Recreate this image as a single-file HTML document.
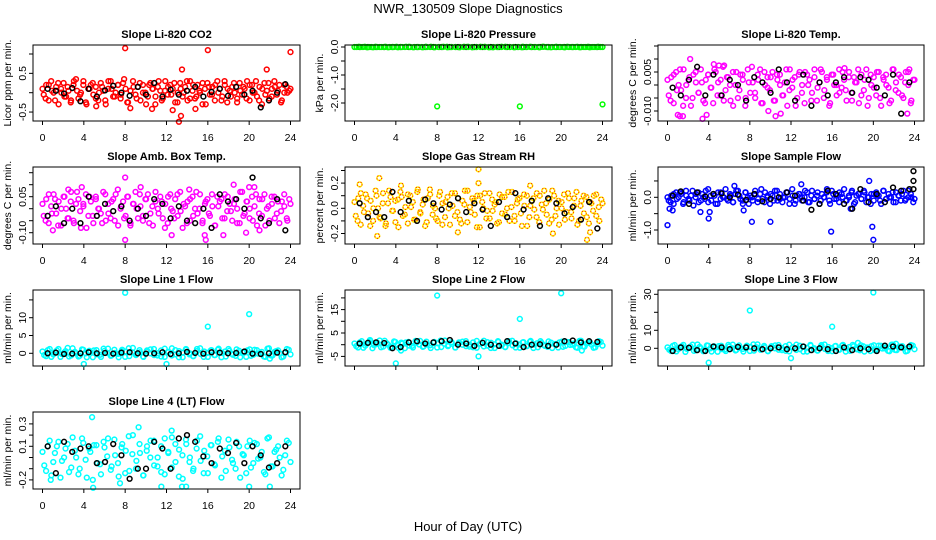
<!DOCTYPE html>
<html><head><meta charset="utf-8"><style>
html,body{margin:0;padding:0;background:#fff;}
svg{display:block;font-family:"Liberation Sans",Arial,sans-serif;}
</style></head><body>
<svg id="chart" width="936" height="540" viewBox="0 0 936 540" xmlns="http://www.w3.org/2000/svg">
<rect width="936" height="540" fill="#fff"/>
<text x="468" y="13" text-anchor="middle" font-size="13">NWR_130509  Slope Diagnostics</text>
<text x="468" y="531" text-anchor="middle" font-size="13">Hour of Day (UTC)</text>
</svg>
<script>
const hourTicks=[0,4,8,12,16,20,24];
const titles=["Slope Li-820 CO2","Slope Li-820 Pressure","Slope Li-820 Temp.","Slope Amb. Box Temp.","Slope Gas Stream RH","Slope Sample Flow","Slope Line 1 Flow","Slope Line 2 Flow","Slope Line 3 Flow","Slope Line 4 (LT) Flow"];
const yTitles=["Licor ppm per min.","kPa per min.","degrees C per min.","degrees C per min.","percent per min.","ml/min per min.","ml/min per min.","ml/min per min.","ml/min per min.","ml/min per min."];

const co2Vals=[0.1,-0.15,0.2,0.05,-0.2,0.25,0,-0.1,0.15,-0.25,0.3,0.05,-0.05,0.2,-0.3,0.1,0.25,-0.15,0,0.15,-0.2,0.3,0.1,-0.1,0.2,-0.05,0.35,-0.25,0.05,0.15,-0.15,0.25,0,-0.3,0.2,0.1,-0.1,0.3,-0.2,0.05,0.15,-0.05,0.25,-0.25,0.1,0,0.3,-0.15,0.2,-0.1,0.05,0.25,-0.3,0.15,-0.05,0.2,0,-0.2,0.3,0.1,-0.1,0.25,-0.25,0.05,0.15,-0.15,0.2,0,0.3,-0.2,0.1,-0.05,0.25,-0.1,0.15,0.05,-0.25,0.2,0,0.1];
const co2ValsB=[-0.05,0.2,-0.2,0.3,0,0.15,-0.3,0.1,0.25,-0.1,0.05,-0.2,0.2,0.35,-0.15,0,0.3,-0.25,0.1,0.2,-0.05,0.15,-0.2,0.25,0.05,-0.3,0.1,0.3,-0.1,0,0.2,-0.15,0.25,0.1,-0.25,0.05,0.3,-0.05,0.15,-0.2,0.2,0,-0.1,0.25,0.1,-0.3,0.15,0.05,-0.15,0.3,-0.05,0.2,0.1,-0.25,0,0.25,-0.1,0.15,-0.2,0.3,0.05,-0.15,0.2,0,-0.3,0.1,0.25,-0.05,0.15,-0.2,0.3,0.1,-0.1,0.2,-0.25,0.05,0.15,0,-0.15,0.25,-0.05,0.1,0.3,-0.2,0.2,0,-0.1,0.15,-0.3,0.25,0.05,-0.15,0.1,0.3,-0.05,0.2,-0.2,0,0.15,0.05];
const co2OutHours=[8,16,24,13.5,21.7,13.2,13.4,10.6,12.6,8.5,5.2,14.8];
const co2OutVals=[1.15,1.1,1.05,0.6,0.6,-0.75,-0.6,-0.42,-0.45,-0.4,-0.35,-0.42];
const co2Ref=[0.1,0.05,-0.02,0.12,-0.22,0.1,-0.1,0.06,0.18,0,-0.08,0.15,-0.05,0.25,-0.1,0.08,-0.05,0.05,0.15,-0.1,0.02,0.1,-0.08,0.15,-0.05,0.05,-0.38,-0.2,0,0.22];

const presVals=[0,0.01,0,-0.01,0,0.01,0,0,-0.01,0,0.01,0,0,0.01,-0.01,0,0,0.01,0,-0.01,0,0,0.01,0,0,-0.01,0,0.01,0,0,0,0.01,-0.01,0,0,0.01,0,0,-0.01,0,0.01,0,0,0,-0.01,0.01,0,0,0.01,0,-0.01,0,0,0.01,0,0,-0.01,0,0.01,0];
const presValsB=[0,0,0.01,0,-0.01,0,0,0.01,0,0,-0.01,0,0.01,0,0,0,-0.01,0,0.01,0,0,0.01,-0.01,0,0,0,0.01,0,-0.01,0,0.01,0,0,-0.01,0,0,0.01,0,0,0,-0.01,0,0.01,0,0,0.01,0,-0.01,0,0,0,0.01,0,0,-0.01,0,0.01,0,0,0];
const presOutHours=[8,16,24];
const presOutVals=[-2.12,-2.12,-2.05];
const presRef=[0,0,0,0,0,0,0,0,0,0,0,0,0,0,0,0,0,0,0,0,0,0,0,0,0,0,0,0,0,0];

const tempVals=[0.002,-0.006,0.004,-0.002,0.006,-0.008,0,0.003,-0.005,0.005,-0.003,0.001,-0.007,0.004,-0.001,0.006,-0.004,0.002,-0.006,0.003,0,-0.008,0.005,-0.002,0.004,-0.005,0.001,0.007,-0.003,0.002,-0.007,0.005,-0.001,0.003,-0.006,0.004,0,-0.004,0.006,-0.002,0.002,-0.008,0.004,-0.003,0.005,0,-0.006,0.003,-0.001,0.006,-0.005,0.002,-0.007,0.004,0,-0.003,0.005,-0.002,0.003,-0.006,0.001,0.006,-0.004,0.002,-0.008,0.004,-0.001,0.005,-0.005,0.003,0,-0.007,0.006,-0.002,0.004,-0.004,0.001,0.005,-0.006,0.002];
const tempValsB=[-0.004,0.003,-0.007,0.005,0,-0.002,0.006,-0.005,0.002,-0.008,0.004,0.001,-0.003,0.006,-0.006,0.002,0.004,-0.001,-0.007,0.005,0.001,-0.004,0.007,-0.002,0.003,-0.006,0.005,0,-0.005,0.004,0.002,-0.008,0.006,-0.003,0.001,-0.005,0.004,0.006,-0.007,0,0.003,-0.002,0.005,-0.006,0.002,0.004,-0.004,0.001,-0.008,0.006,-0.001,0.003,-0.005,0.005,0,-0.007,0.004,0.002,-0.003,0.006,-0.006,0.001,0.005,-0.002,0.003,-0.008,0.004,0,-0.004,0.006,-0.001,0.002,-0.006,0.005,-0.003,0.003,0.001,-0.007,0.004,-0.002,0.006,-0.005,0,0.003,-0.004,0.005,-0.008,0.002,0.004,-0.001,-0.006,0.006,0.001,-0.003,0.003,-0.005,0.005,0,-0.007,0.002];
const tempOutHours=[1.2,1.5,3.4,4.5,5,5.5,2.2,9.8,10.5,11,17.2,23.5,23.3,3.8,1.0];
const tempOutVals=[-0.012,-0.012,-0.013,0.008,0.0075,0.0075,0.01,-0.01,-0.012,-0.011,0.0065,0.006,-0.011,-0.0115,-0.0115];
const tempRef=[-0.001,-0.004,0.002,0.007,-0.004,0.004,-0.004,0.002,0,-0.006,0.003,0.001,-0.003,0.006,0.001,-0.006,0.004,-0.008,0.001,-0.004,0.001,0.003,-0.003,0.003,0.002,-0.001,-0.004,0.004,-0.011,0.001];

const ambVals=[0.02,-0.05,0.06,-0.02,0.04,-0.07,0,0.05,-0.04,0.03,-0.06,0.07,-0.01,0.02,-0.08,0.05,-0.03,0.04,0,-0.06,0.06,-0.02,0.03,-0.05,0.08,0.01,-0.04,0.05,-0.07,0.02,0,0.06,-0.03,0.04,-0.06,0.01,0.07,-0.02,0.03,-0.08,0.05,0,-0.04,0.06,-0.01,0.02,-0.06,0.04,-0.03,0.07,0,-0.05,0.03,-0.02,0.06,-0.07,0.01,0.04,-0.04,0.05,-0.01,0.02,-0.06,0.07,-0.03,0.03,0,-0.05,0.06,-0.02,0.04,-0.07,0.01,0.05,-0.04,0.03,-0.01,0.06,-0.05,0.02];
const ambValsB=[-0.03,0.04,-0.06,0.01,0.06,-0.02,0.03,-0.07,0.05,0,-0.04,0.07,-0.05,0.02,0.04,-0.08,0.01,0.06,-0.03,0.03,-0.06,0.05,0,-0.02,0.07,-0.05,0.02,-0.04,0.04,0.06,-0.07,0,0.03,-0.03,0.05,-0.06,0.02,0.07,-0.04,0.01,-0.05,0.04,0.06,-0.02,-0.07,0.03,0,0.05,-0.04,0.02,-0.06,0.06,-0.01,0.04,-0.03,0.07,-0.08,0.01,0.03,-0.05,0.05,0,-0.02,0.06,-0.06,0.02,0.04,-0.03,0.01,-0.07,0.05,0.03,-0.04,0.06,-0.01,0.02,-0.05,0.04,0,-0.06,0.07,-0.02,0.03,-0.04,0.05,0.01,-0.07,0.04,-0.03,0.06,0,-0.05,0.02,0.05,-0.02,-0.06,0.03,0.01,-0.04,0.04];
const ambOutHours=[8,12.5,15.8,15.7,18.5,20,17.5,3.8,2.5,9.5,19.7,21,8,14.2,20.5,1];
const ambOutVals=[0.13,-0.11,-0.13,-0.11,0.10,0.09,-0.11,0.09,0.08,0.09,-0.1,-0.09,-0.13,0.08,0.09,-0.09];
const ambRef=[-0.03,0.01,-0.06,0,-0.06,0.05,-0.03,0.02,-0.01,0.01,-0.05,0,-0.03,0.04,0.02,-0.04,0.01,-0.05,-0.06,0,-0.08,0.06,0.03,0.04,0,0.13,-0.04,-0.06,0.04,-0.09];

const rhVals=[0.05,-0.1,0.12,-0.03,0.08,-0.14,0,0.1,-0.07,0.04,-0.12,0.14,-0.02,0.06,-0.15,0.09,-0.05,0.11,0.01,-0.09,0.13,-0.04,0.07,-0.11,0.15,0.02,-0.08,0.1,-0.13,0.05,0,0.12,-0.06,0.08,-0.12,0.03,0.14,-0.03,0.06,-0.15,0.1,0,-0.08,0.12,-0.02,0.05,-0.11,0.09,-0.05,0.13,0.01,-0.1,0.07,-0.04,0.11,-0.14,0.02,0.08,-0.07,0.1,-0.01,0.04,-0.12,0.14,-0.06,0.06,0,-0.09,0.12,-0.03,0.08,-0.13,0.02,0.1,-0.07,0.05,-0.02,0.11,-0.1,0.04];
const rhValsB=[-0.06,0.08,-0.13,0.02,0.11,-0.04,0.06,-0.1,0.14,0,-0.08,0.12,-0.14,0.04,0.09,-0.02,-0.11,0.07,0.13,-0.06,0.01,-0.12,0.1,0.05,-0.09,0.15,-0.03,0.03,-0.14,0.08,0.11,-0.05,0,-0.1,0.13,0.04,-0.07,0.09,-0.13,0.02,0.12,-0.03,-0.09,0.06,0.14,-0.11,0.01,0.08,-0.05,0.1,-0.15,0.05,0.12,-0.02,-0.08,0.07,0.03,-0.12,0.11,-0.04,0.09,0,-0.1,0.13,-0.06,0.04,0.08,-0.14,0.02,0.1,-0.07,0.06,-0.01,0.12,-0.11,0.03,0.14,-0.05,0.07,-0.09,0.1,0,-0.13,0.05,0.11,-0.03,0.08,-0.08,0.02,0.13,-0.1,0.06,-0.04,0.09,-0.12,0.04,0.1,-0.06,0.01,0.07];
const rhOutHours=[12,2.2,2.4,0.5,22.5,22.8,12,10,19.2,17,4.5];
const rhOutVals=[0.31,-0.22,0.24,0.19,-0.25,-0.19,0.2,-0.19,-0.2,0.18,0.18];
const rhRef=[0.04,-0.07,-0.03,-0.07,0.13,-0.03,0.06,-0.1,0.07,0.04,-0.01,0.03,0.08,-0.03,0.04,-0.01,-0.14,0.05,-0.07,0.12,-0.01,0.06,-0.14,0.08,0.04,-0.04,0.01,-0.09,0.05,-0.16];

const flowVals=[0,-0.15,0.1,-0.05,0.15,-0.2,0.05,-0.1,0.2,0,-0.15,0.1,-0.05,0.25,-0.1,0.05,-0.2,0.15,0,-0.05,0.1,-0.15,0.2,0.05,-0.1,0.15,-0.2,0,0.1,-0.05,0.25,-0.15,0.05,0.1,-0.1,0.2,-0.05,0,0.15,-0.2,0.05,-0.1,0.1,0,0.2,-0.15,0.05,-0.05,0.15,-0.1,0,0.25,-0.2,0.1,-0.05,0.15,0,-0.1,0.05,0.2,-0.15,0.1,-0.05,0.15,0,-0.2,0.1,0.05,-0.1,0.2,-0.05,0,0.15,-0.15,0.05,0.1,-0.1,0.2,0,-0.05];
const flowValsB=[-0.1,0.05,-0.2,0.15,0,0.1,-0.15,0.2,-0.05,0.05,-0.25,0.1,0.15,-0.1,0,0.2,-0.15,0.05,0.1,-0.2,0.15,-0.05,0,0.25,-0.1,0.05,-0.15,0.1,0.2,-0.05,-0.2,0.15,0,0.05,-0.1,0.2,-0.15,0.1,-0.05,0.15,0,-0.2,0.05,0.2,-0.1,0.1,-0.15,0,0.15,-0.05,0.25,-0.2,0.05,0.1,-0.1,0,0.15,-0.15,0.2,-0.05,0.05,-0.2,0.1,0,0.15,-0.1,0.2,-0.05,0.05,-0.15,0.1,0.25,-0.1,0,0.15,-0.2,0.05,0.1,-0.05,0.2,-0.15,0,0.1,-0.1,0.15,0.05,-0.2,0.2,-0.05,0.1,0,-0.15,0.15,0.05,-0.1,0.2,-0.05,0,0.1,-0.15];
const flowOutHours=[0,0.2,0.5,4,4.1,8.2,10,15.9,20,19.9,19.6,3.2,7.4,6.5,13,17.8];
const flowOutVals=[-0.85,-0.35,-0.4,-0.65,-0.45,-0.75,-0.75,-1.05,-1.3,-0.9,0.5,-0.45,-0.4,0.35,0.4,-0.35];
const flowRef=[0.05,0.18,-0.2,0.15,0.02,0.1,0.12,0,0.08,-0.08,0.1,-0.12,-0.05,0,0.15,0.05,-0.1,-0.38,-0.2,0.2,0.1,-0.2,-0.35,0.25,-0.15,0.1,-0.15,0.3,0.2,0.25];
const flowRefOutHours=[23.9,23.9,23.9];
const flowRefOutVals=[0.8,0.5,0.25];

const l1Vals=[0.5,-0.8,1.2,-0.3,0.8,-1,0.2,1.5,-0.6,0.4,-0.9,1.1,0,0.7,-1.1,0.9,-0.4,1.3,0.1,-0.7,1,-0.2,0.6,-1,1.4,0.3,-0.5,0.9,-0.9,0.5,0,1.2,-0.6,0.8,-1,0.3,1.4,-0.3,0.6,-1.1,1,0,-0.8,1.2,-0.2,0.5,-1,0.9,-0.5,1.3,0.1,-0.9,0.7,-0.4,1.1,-1.1,0.2,0.8,-0.7,1,-0.1,0.4,-1,1.4,-0.6,0.6,0,-0.9,1.2,-0.3];
const l1ValsB=[-0.5,0.9,-1,0.3,1.2,-0.2,0.6,-0.9,1.4,0,-0.7,1,-1.1,0.4,0.8,-0.3,-1,0.7,1.3,-0.6,0.1,-1.1,1,0.5,-0.8,1.5,-0.2,0.3,-1,0.8,1.1,-0.5,0,-0.9,1.3,0.4,-0.6,0.9,-1.1,0.2,1.2,-0.3,-0.8,0.6,1.4,-1,0.1,0.8,-0.5,1,-1.1,0.5,1.2,-0.2,-0.7,0.7,0.3,-1,1.1,-0.4,0.9,0,-0.9,1.3,-0.6,0.4,0.8,-1.1,0.2,1];
const l1OutHours=[8,16,20,4,12,22];
const l1OutVals=[17,7.5,11,-3,-3,-1.5];
const l1Ref=[0,0.2,-0.2,-0.1,0,0.3,0,0.1,-0.1,0.2,0.3,0,-0.1,0,0.3,-0.2,0,0.4,0.1,-0.1,0.3,0.2,0,0.1,0.5,-0.1,-0.2,0,0.2,0.3];

const l2Vals=[0.5,-1.2,1.5,-0.4,1,-1.5,0.2,1.8,-0.8,0.6,-1.3,1.4,0,0.9,-1.5,1.2,-0.5,1.6,0.1,-0.9,1.3,-0.3,0.8,-1.2,1.8,0.4,-0.6,1.1,-1.2,0.6,0,1.5,-0.8,1,-1.3,0.4,1.7,-0.4,0.8,-1.4,1.2,0,-1,1.5,-0.3,0.6,-1.3,1.1,-0.6,1.6,0.1,-1.1,0.9,-0.5,1.4,-1.4,0.3,1,-0.9,1.2,-0.1,0.5,-1.3,1.7,-0.8,0.8,0,-1.1,1.5,-0.4];
const l2ValsB=[-0.6,1,-1.3,0.4,1.5,-0.2,0.8,-1.1,1.7,0,-0.9,1.2,-1.4,0.5,1,-0.4,-1.2,0.8,1.6,-0.7,0.1,-1.4,1.2,0.6,-1,1.8,-0.3,0.4,-1.2,1,1.3,-0.6,0,-1.1,1.6,0.5,-0.7,1.1,-1.4,0.2,1.5,-0.4,-1,0.7,1.7,-1.2,0.1,1,-0.6,1.2,-1.4,0.6,1.5,-0.2,-0.9,0.9,0.3,-1.2,1.3,-0.5,1.1,0,-1.1,1.6,-0.7,0.5,1,-1.3,0.2,1.2];
const l2OutHours=[8,20,16,4,12,4.5,22,1.5];
const l2OutVals=[21,22,11,-8,-5,-2.5,-2.5,2];
const l2Ref=[0.5,0.8,1,0.7,-1.5,-1,1,1.5,0.5,1,1.5,2,0,0.5,-0.5,0.8,0,-0.5,1.5,0.5,-1,0,0.2,-0.5,0,1.5,1.8,1,1.5,1.2];

const l3Vals=[0.5,-1.5,1.8,-0.5,1.2,-2,0.3,2,-1,0.8,-1.6,1.6,0,1.1,-1.9,1.4,-0.6,1.9,0.1,-1.2,1.6,-0.4,1,-1.5,2.2,0.5,-0.8,1.3,-1.5,0.7,0,1.8,-1,1.2,-1.7,0.5,2,-0.5,1,-1.8,1.4,0,-1.2,1.8,-0.4,0.7,-1.6,1.3,-0.8,1.9,0.1,-1.4,1.1,-0.6,1.7,-1.8,0.4,1.2,-1.1,1.5,-0.1,0.6,-1.6,2,-1,1,0,-1.4,1.8,-0.5];
const l3ValsB=[-0.8,1.3,-1.7,0.5,1.9,-0.3,1,-1.4,2.1,0,-1.1,1.5,-1.8,0.6,1.2,-0.5,-1.5,1,2,-0.9,0.2,-1.8,1.5,0.7,-1.3,2.2,-0.4,0.5,-1.6,1.2,1.6,-0.8,0,-1.4,2,0.6,-0.9,1.4,-1.8,0.3,1.9,-0.5,-1.3,0.9,2.1,-1.5,0.1,1.2,-0.7,1.5,-1.8,0.7,1.9,-0.3,-1.1,1.1,0.4,-1.5,1.7,-0.6,1.4,0,-1.4,2,-0.9,0.6,1.2,-1.7,0.3,1.5];
const l3OutHours=[8,20,16,4,12,18.5,22.2];
const l3OutVals=[21,31,12,-8,-5.5,3,2.5];
const l3Ref=[-1.5,0.5,0.3,-1,-1.5,1,0.5,-0.5,0.8,0.5,0,-0.5,0,0.5,-0.5,0,1,-1,0,-0.5,-1.5,0.5,-1,0,-0.5,-1.5,1.5,1,0.5,1];

const l4Vals=[0.05,-0.12,0.15,-0.04,0.1,-0.18,0,0.12,-0.09,0.06,-0.15,0.17,-0.02,0.08,-0.2,0.11,-0.06,0.14,0.01,-0.11,0.16,-0.05,0.09,-0.14,0.19,0.03,-0.1,0.12,-0.16,0.06,0,0.15,-0.08,0.1,-0.15,0.04,0.18,-0.04,0.07,-0.19,0.12,0,-0.1,0.15,-0.03,0.06,-0.14,0.11,-0.07,0.17,0.01,-0.12,0.09,-0.05,0.14,-0.18,0.02,0.1,-0.09,0.13,-0.01,0.05,-0.15,0.18,-0.08,0.07,0,-0.11,0.15,-0.04];
const l4ValsB=[-0.07,0.1,-0.16,0.04,0.14,-0.03,0.08,-0.13,0.18,0,-0.1,0.13,-0.18,0.05,0.11,-0.05,-0.15,0.09,0.17,-0.08,0.02,-0.17,0.12,0.06,-0.12,0.2,-0.03,0.04,-0.16,0.1,0.15,-0.07,0,-0.13,0.17,0.05,-0.09,0.12,-0.17,0.02,0.16,-0.04,-0.12,0.08,0.19,-0.14,0.01,0.11,-0.06,0.14,-0.18,0.06,0.16,-0.02,-0.1,0.1,0.03,-0.14,0.15,-0.05,0.12,0,-0.13,0.17,-0.08,0.05,0.1,-0.16,0.02,0.13];
const l4OutHours=[4.8,4.9,9.3,7.5,11.5,13.5,13.9,20,22,12.5,0.8];
const l4OutVals=[0.36,-0.27,0.27,-0.23,-0.26,-0.26,-0.26,-0.26,-0.26,0.24,-0.2];
const l4Ref=[0.1,-0.14,0.14,0.05,0.08,0.1,-0.05,-0.04,0.12,0.02,-0.19,-0.1,-0.1,0.14,0.08,-0.1,0.17,0.2,0.14,0.01,-0.05,0.08,0.04,0.13,-0.05,0.1,0.02,-0.09,-0.05,0.1];

const colL=[33,345,658], colR=[300,612,924];
const rowT=[45,167,290,412], rowB=[121,244,366,489];
const panels=[
 {c:0,r:0,name:"co2",zero:92.7,k:38.7,ticks:[-0.5,0,0.5,1],lab:["-0.5","","0.5",""],col:"#ff0000",vals:co2Vals,valsB:co2ValsB,oh:co2OutHours,ov:co2OutVals,ref:co2Ref},
 {c:1,r:0,name:"pressure",zero:47,k:28,ticks:[0,-0.5,-1,-1.5,-2],lab:["0.0","","-1.0","","-2.0"],col:"#00ff00",vals:presVals,valsB:presValsB,oh:presOutHours,ov:presOutVals,ref:presRef,refFirst:true},
 {c:2,r:0,name:"li820-temp",zero:85,k:2600,ticks:[-0.01,-0.005,0,0.005,0.01,0.015],lab:["-0.010","","","0.005","",""],col:"#ff00ff",vals:tempVals,valsB:tempValsB,oh:tempOutHours,ov:tempOutVals,ref:tempRef},
 {c:0,r:1,name:"amb-box-temp",zero:208.7,k:240,ticks:[-0.1,-0.05,0,0.05,0.1,0.15],lab:["-0.10","","","0.05","",""],col:"#ff00ff",vals:ambVals,valsB:ambValsB,oh:ambOutHours,ov:ambOutVals,ref:ambRef},
 {c:1,r:1,name:"gas-stream-rh",zero:208.3,k:126,ticks:[-0.2,-0.1,0,0.1,0.2,0.3],lab:["-0.2","","0.0","","0.2",""],col:"#ffee00",dash:"#ff2200",vals:rhVals,valsB:rhValsB,oh:rhOutHours,ov:rhOutVals,ref:rhRef},
 {c:2,r:1,name:"sample-flow",zero:197.3,k:32.7,ticks:[-1,-0.5,0,0.5],lab:["-1.0","","0.0",""],col:"#0000ff",vals:flowVals,valsB:flowValsB,oh:flowOutHours,ov:flowOutVals,ref:flowRef,roh:flowRefOutHours,rov:flowRefOutVals},
 {c:0,r:2,name:"line1-flow",zero:353.3,k:3.56,ticks:[0,5,10,15],lab:["0","5","10",""],col:"#00ffff",vals:l1Vals,valsB:l1ValsB,oh:l1OutHours,ov:l1OutVals,ref:l1Ref},
 {c:1,r:2,name:"line2-flow",zero:344.7,k:2.34,ticks:[-5,0,5,10,15,20],lab:["-5","","5","","15",""],col:"#00ffff",vals:l2Vals,valsB:l2ValsB,oh:l2OutHours,ov:l2OutVals,ref:l2Ref},
 {c:2,r:2,name:"line3-flow",zero:348.3,k:1.8,ticks:[0,10,20,30],lab:["0","10","","30"],col:"#00ffff",vals:l3Vals,valsB:l3ValsB,oh:l3OutHours,ov:l3OutVals,ref:l3Ref},
 {c:0,r:3,name:"line4-flow",zero:457.5,k:112,ticks:[-0.2,-0.1,0,0.1,0.2,0.3],lab:["-0.2","","","0.1","","0.3"],col:"#00ffff",vals:l4Vals,valsB:l4ValsB,oh:l4OutHours,ov:l4OutVals,ref:l4Ref}
];
const NS="http://www.w3.org/2000/svg";
const svg=document.getElementById("chart");
function mk(tag,attrs,parent){const e=document.createElementNS(NS,tag);for(const a in attrs)e.setAttribute(a,attrs[a]);(parent||svg).appendChild(e);return e;}
panels.forEach((p,pi)=>{
 const L=colL[p.c],R=colR[p.c],T=rowT[p.r],B=rowB[p.r];
 const xs=h=>L+9.5+h*(R-L-19)/24;
 const ys=v=>p.zero-v*p.k;
 const g=mk("g",{});
 
 
 const t=mk("text",{x:(L+R)/2,y:T-7,"text-anchor":"middle","font-size":"11","font-weight":"bold"},g);
 t.textContent=titles[pi];
 
 
 const yt=mk("text",{x:0,y:0,"text-anchor":"middle","font-size":"10.5",transform:`translate(${L-22},${(T+B)/2}) rotate(-90)`},g);
 yt.textContent=yTitles[pi];
 
 
 p.ticks.forEach((v,i)=>{
  const y=ys(v);
  const tk=mk("line",{x1:L-4,x2:L,y1:y,y2:y,stroke:"#000","stroke-width":1},g);
  
  
  if(p.lab[i]){
   const tl=mk("text",{x:0,y:0,"text-anchor":"middle","font-size":"10.5",transform:`translate(${L-7},${y}) rotate(-90)`},g);
   tl.textContent=p.lab[i];
   
   
  }
 });
 hourTicks.forEach(h=>{
  const x=xs(h);
  const tk=mk("line",{x1:x,x2:x,y1:B,y2:B+4,stroke:"#000","stroke-width":1},g);
  
  
  if(p.r!==2){
   const tl=mk("text",{x:x,y:B+20,"text-anchor":"middle","font-size":"10.5"},g);
   tl.textContent=String(h);
   
   
  }
 });
 const dot=(h,v,col,dash,nm)=>{
  const c=mk("circle",{cx:xs(h),cy:ys(v),r:2.4,fill:"none",stroke:col,"stroke-width":1.5},g);
  
  
  if(dash){const d=mk("circle",{cx:xs(h),cy:ys(v),r:2.4,fill:"none",stroke:dash,"stroke-width":1.1,"stroke-dasharray":"1 2"},g);
   
   }
 };
 const drawRef=()=>{
  p.ref.forEach((v,i)=>dot(0.5+i*23/(p.ref.length-1),v,"#000",null,"reference-point"));
  if(p.roh)p.roh.forEach((h,i)=>dot(h,p.rov[i],"#000",null,"reference-point"));
 };
 if(p.refFirst)drawRef();
 p.vals.forEach((v,i)=>dot(i*24/(p.vals.length-1),v,p.col,p.dash,"data-point"));
 p.valsB.forEach((v,i)=>dot((i+0.5)*24/p.valsB.length,v,p.col,p.dash,"data-point"));
 p.oh.forEach((h,i)=>dot(h,p.ov[i],p.col,p.dash,"outlier-point"));
 if(!p.refFirst)drawRef();
 const box=mk("rect",{x:L,y:T,width:R-L,height:B-T,fill:"none",stroke:"#000","stroke-width":1},g);
 
 
});
</script>
</body></html>
